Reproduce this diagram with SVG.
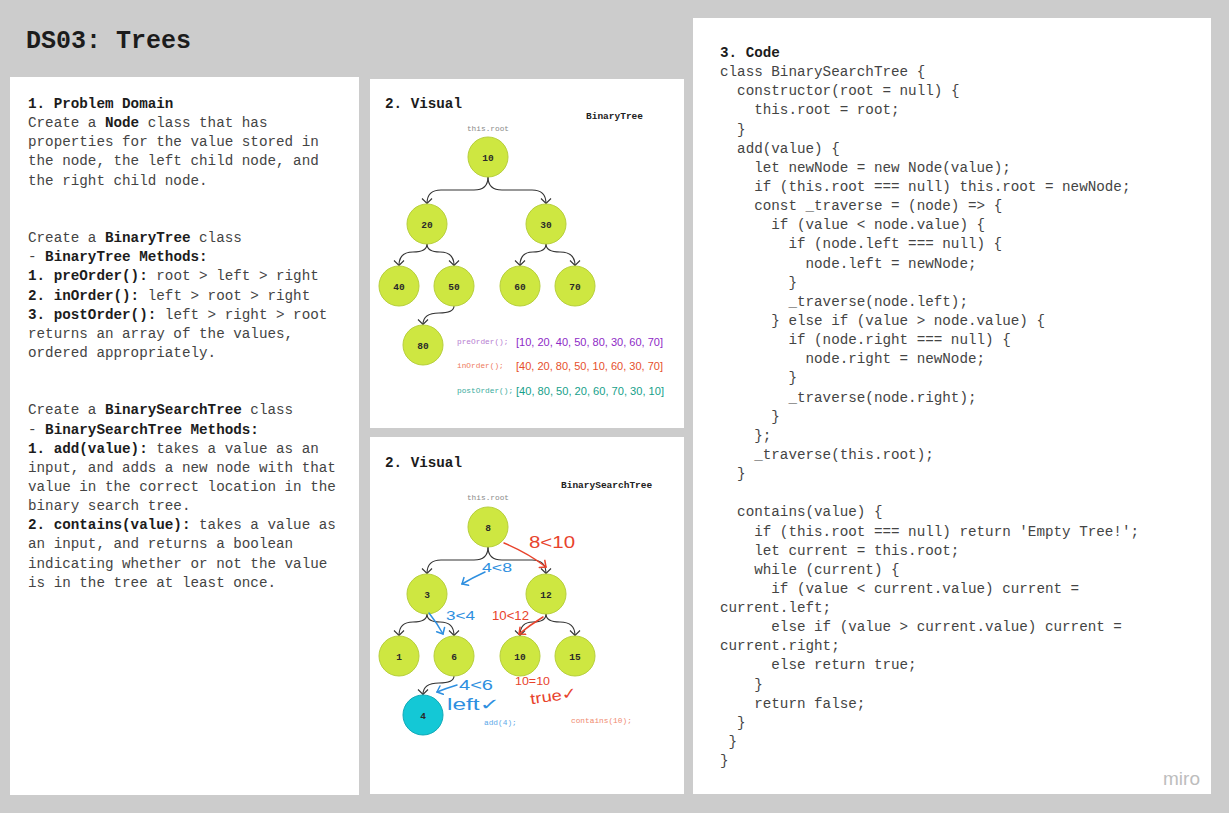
<svg xmlns="http://www.w3.org/2000/svg" width="1229" height="813" viewBox="0 0 1229 813">
<defs>
<style>
.panel{fill:#ffffff}
.mono{font-family:"Liberation Mono","DejaVu Sans Mono",monospace;font-size:14.25px;fill:#444444}
.b{font-weight:bold;fill:#1c1c1c}
.head{font-family:"Liberation Mono","DejaVu Sans Mono",monospace;font-size:14.25px;font-weight:bold;fill:#1c1c1c}
.node{fill:#cee741;stroke:#b7cf3c;stroke-width:1}
.node2{fill:#14c8d6;stroke:#10aab8;stroke-width:1}
.num{font-family:"Liberation Mono","DejaVu Sans Mono",monospace;font-size:9.5px;font-weight:bold;fill:#2a2a2a;text-anchor:middle}
.edge{fill:none;stroke:#333;stroke-width:1.1}
.small{font-family:"Liberation Mono","DejaVu Sans Mono",monospace;font-size:7.8px}
.lbl{font-family:"Liberation Mono","DejaVu Sans Mono",monospace;font-size:9.5px;font-weight:bold;fill:#222}
.hand{font-family:"Liberation Sans","DejaVu Sans",sans-serif}
.red{fill:#e8432c}
.blue{fill:#2e8fe0}
.redl{fill:none;stroke:#e8432c;stroke-width:1.5;stroke-linecap:round}
.bluel{fill:none;stroke:#2e8fe0;stroke-width:1.5;stroke-linecap:round}
</style>
<marker id="arr" viewBox="-6 -6 12 12" refX="0" refY="0" markerWidth="12" markerHeight="12" markerUnits="userSpaceOnUse" orient="auto">
<path d="M-5,-5 L0,0 L-5,5" fill="none" stroke="#333" stroke-width="1.1"/>
</marker>
<marker id="arrR" viewBox="-6 -6 12 12" refX="0" refY="0" markerWidth="12" markerHeight="12" markerUnits="userSpaceOnUse" orient="auto">
<path d="M-5,-4.5 L0,0 L-5,4.5" fill="none" stroke="#e8432c" stroke-width="1.5" stroke-linecap="round"/>
</marker>
<marker id="arrB" viewBox="-6 -6 12 12" refX="0" refY="0" markerWidth="12" markerHeight="12" markerUnits="userSpaceOnUse" orient="auto">
<path d="M-5,-4.5 L0,0 L-5,4.5" fill="none" stroke="#2e8fe0" stroke-width="1.5" stroke-linecap="round"/>
</marker>
</defs>

<rect x="0" y="0" width="1229" height="813" fill="#cccccc"/>
<text x="26" y="48" font-family="Liberation Mono, DejaVu Sans Mono, monospace" font-size="25" font-weight="bold" fill="#1c1c1c">DS03: Trees</text>

<g id="panel-problem">
<rect class="panel" x="10" y="77" width="349" height="718"/>
<text class="head" x="28" y="108">1. Problem Domain</text>
<text class="mono" x="28" y="127.15">Create a <tspan class="b">Node</tspan> class that has</text>
<text class="mono" x="28" y="146.3">properties for the value stored in</text>
<text class="mono" x="28" y="165.45">the node, the left child node, and</text>
<text class="mono" x="28" y="184.6">the right child node.</text>
<text class="mono" x="28" y="242.05">Create a <tspan class="b">BinaryTree</tspan> class</text>
<text class="mono" x="28" y="261.2">- <tspan class="b">BinaryTree Methods:</tspan></text>
<text class="mono" x="28" y="280.35"><tspan class="b">1. preOrder():</tspan> root &gt; left &gt; right</text>
<text class="mono" x="28" y="299.5"><tspan class="b">2. inOrder():</tspan> left &gt; root &gt; right</text>
<text class="mono" x="28" y="318.65"><tspan class="b">3. postOrder():</tspan> left &gt; right &gt; root</text>
<text class="mono" x="28" y="337.8">returns an array of the values,</text>
<text class="mono" x="28" y="356.95">ordered appropriately.</text>
<text class="mono" x="28" y="414.4">Create a <tspan class="b">BinarySearchTree</tspan> class</text>
<text class="mono" x="28" y="433.55">- <tspan class="b">BinarySearchTree Methods:</tspan></text>
<text class="mono" x="28" y="452.7"><tspan class="b">1. add(value):</tspan> takes a value as an</text>
<text class="mono" x="28" y="471.85">input, and adds a new node with that</text>
<text class="mono" x="28" y="491">value in the correct location in the</text>
<text class="mono" x="28" y="510.15">binary search tree.</text>
<text class="mono" x="28" y="529.3"><tspan class="b">2. contains(value):</tspan> takes a value as</text>
<text class="mono" x="28" y="548.45">an input, and returns a boolean</text>
<text class="mono" x="28" y="567.6">indicating whether or not the value</text>
<text class="mono" x="28" y="586.75">is in the tree at least once.</text>
</g>

<g id="panel-visual-bt">
<rect class="panel" x="370" y="79" width="314" height="349"/>
<text class="head" x="385" y="108">2. Visual</text>
<text class="lbl" x="586" y="119">BinaryTree</text>
<text class="small" x="488" y="131" fill="#8a8a8a" text-anchor="middle">this.root</text>
<text class="small" x="457" y="344" fill="#b57bd0">preOrder();</text>
<text class="hand" x="516" y="346" font-size="11" fill="#8e2ac6" textLength="147" lengthAdjust="spacingAndGlyphs">[10, 20, 40, 50, 80, 30, 60, 70]</text>
<text class="small" x="457" y="368" fill="#ee7a5c">inOrder();</text>
<text class="hand" x="516" y="370" font-size="11" fill="#e64f2c" textLength="147" lengthAdjust="spacingAndGlyphs">[40, 20, 80, 50, 10, 60, 30, 70]</text>
<text class="small" x="457" y="393" fill="#38ab9c">postOrder();</text>
<text class="hand" x="516" y="395" font-size="11" fill="#16a08a" textLength="148" lengthAdjust="spacingAndGlyphs">[40, 80, 50, 20, 60, 70, 30, 10]</text>
</g>

<g id="panel-visual-bst">
<rect class="panel" x="370" y="437" width="314" height="357"/>
<text class="head" x="385" y="467">2. Visual</text>
<text class="lbl" x="561" y="488">BinarySearchTree</text>
<text class="small" x="488" y="500" fill="#8a8a8a" text-anchor="middle">this.root</text>
<text class="small" x="484" y="725" fill="#5ca8e8">add(4);</text>
<text class="small" x="571" y="723" fill="#f08a70">contains(10);</text>
</g>

<g id="panel-code">
<rect class="panel" x="693" y="18" width="518" height="776"/>
<text class="head" x="720" y="57">3. Code</text>
<text class="mono" x="720" y="76.14">class BinarySearchTree {</text>
<text class="mono" x="737.1" y="95.28">constructor(root = null) {</text>
<text class="mono" x="754.2" y="114.42">this.root = root;</text>
<text class="mono" x="737.1" y="133.56">}</text>
<text class="mono" x="737.1" y="152.7">add(value) {</text>
<text class="mono" x="754.2" y="171.84">let newNode = new Node(value);</text>
<text class="mono" x="754.2" y="190.98">if (this.root === null) this.root = newNode;</text>
<text class="mono" x="754.2" y="210.12">const _traverse = (node) =&gt; {</text>
<text class="mono" x="771.3" y="229.26">if (value &lt; node.value) {</text>
<text class="mono" x="788.4" y="248.4">if (node.left === null) {</text>
<text class="mono" x="805.5" y="267.54">node.left = newNode;</text>
<text class="mono" x="788.4" y="286.68">}</text>
<text class="mono" x="788.4" y="305.82">_traverse(node.left);</text>
<text class="mono" x="771.3" y="324.96">} else if (value &gt; node.value) {</text>
<text class="mono" x="788.4" y="344.1">if (node.right === null) {</text>
<text class="mono" x="805.5" y="363.24">node.right = newNode;</text>
<text class="mono" x="788.4" y="382.38">}</text>
<text class="mono" x="788.4" y="401.52">_traverse(node.right);</text>
<text class="mono" x="771.3" y="420.66">}</text>
<text class="mono" x="754.2" y="439.8">};</text>
<text class="mono" x="754.2" y="458.94">_traverse(this.root);</text>
<text class="mono" x="737.1" y="478.08">}</text>
<text class="mono" x="737.1" y="516.36">contains(value) {</text>
<text class="mono" x="754.2" y="535.5">if (this.root === null) return 'Empty Tree!';</text>
<text class="mono" x="754.2" y="554.64">let current = this.root;</text>
<text class="mono" x="754.2" y="573.78">while (current) {</text>
<text class="mono" x="771.3" y="592.92">if (value &lt; current.value) current =</text>
<text class="mono" x="720" y="612.06">current.left;</text>
<text class="mono" x="771.3" y="631.2">else if (value &gt; current.value) current =</text>
<text class="mono" x="720" y="650.34">current.right;</text>
<text class="mono" x="771.3" y="669.48">else return true;</text>
<text class="mono" x="754.2" y="688.62">}</text>
<text class="mono" x="754.2" y="707.76">return false;</text>
<text class="mono" x="737.1" y="726.9">}</text>
<text class="mono" x="728.55" y="746.04">}</text>
<text class="mono" x="720" y="765.18">}</text>
<text x="1200" y="785" font-family="Liberation Sans, Arial, sans-serif" font-size="19" fill="#bdbdbd" text-anchor="end">miro</text>
</g>

<g id="connectors">
<path class="edge" marker-end="url(#arr)" d="M488,177 Q488,190 474,190 L441,190 Q427,190 427,203.5"/>
<path class="edge" marker-end="url(#arr)" d="M488,177 Q488,190 502,190 L532,190 Q546,190 546,203.5"/>
<path class="edge" marker-end="url(#arr)" d="M427,244 Q427,252 413,252 Q399,252 399,265.5"/>
<path class="edge" marker-end="url(#arr)" d="M427,244 Q427,252 440,252 Q454,252 454,265.5"/>
<path class="edge" marker-end="url(#arr)" d="M546,244 Q546,252 533,252 Q520,252 520,265.5"/>
<path class="edge" marker-end="url(#arr)" d="M546,244 Q546,252 560,252 Q575,252 575,265.5"/>
<path class="edge" marker-end="url(#arr)" d="M454,306 Q454,313 439,313 Q423,313 423,324.5"/>
<path class="edge" marker-end="url(#arr)" d="M488,547 Q488,560 474,560 L441,560 Q427,560 427,573.5"/>
<path class="edge" marker-end="url(#arr)" d="M488,547 Q488,560 502,560 L532,560 Q546,560 546,573.5"/>
<path class="edge" marker-end="url(#arr)" d="M427,614 Q427,622 413,622 Q399,622 399,635.5"/>
<path class="edge" marker-end="url(#arr)" d="M427,614 Q427,622 440,622 Q454,622 454,635.5"/>
<path class="edge" marker-end="url(#arr)" d="M546,614 Q546,622 533,622 Q520,622 520,635.5"/>
<path class="edge" marker-end="url(#arr)" d="M546,614 Q546,622 560,622 Q575,622 575,635.5"/>
<path class="edge" marker-end="url(#arr)" d="M454,676 Q454,683 439,683 Q423,683 423,694.5"/>
</g>

<g id="bt-10"><circle class="node" cx="488" cy="157" r="20"/><text class="num" x="488" y="160.5">10</text></g>
<g id="bt-20"><circle class="node" cx="427" cy="224" r="20"/><text class="num" x="427" y="227.5">20</text></g>
<g id="bt-30"><circle class="node" cx="546" cy="224" r="20"/><text class="num" x="546" y="227.5">30</text></g>
<g id="bt-40"><circle class="node" cx="399" cy="286" r="20"/><text class="num" x="399" y="289.5">40</text></g>
<g id="bt-50"><circle class="node" cx="454" cy="286" r="20"/><text class="num" x="454" y="289.5">50</text></g>
<g id="bt-60"><circle class="node" cx="520" cy="286" r="20"/><text class="num" x="520" y="289.5">60</text></g>
<g id="bt-70"><circle class="node" cx="575" cy="286" r="20"/><text class="num" x="575" y="289.5">70</text></g>
<g id="bt-80"><circle class="node" cx="423" cy="345" r="20"/><text class="num" x="423" y="348.5">80</text></g>

<g id="bst-8"><circle class="node" cx="488" cy="527" r="20"/><text class="num" x="488" y="530.5">8</text></g>
<g id="bst-3"><circle class="node" cx="427" cy="594" r="20"/><text class="num" x="427" y="597.5">3</text></g>
<g id="bst-12"><circle class="node" cx="546" cy="594" r="20"/><text class="num" x="546" y="597.5">12</text></g>
<g id="bst-1"><circle class="node" cx="399" cy="656" r="20"/><text class="num" x="399" y="659.5">1</text></g>
<g id="bst-6"><circle class="node" cx="454" cy="656" r="20"/><text class="num" x="454" y="659.5">6</text></g>
<g id="bst-10"><circle class="node" cx="520" cy="656" r="20"/><text class="num" x="520" y="659.5">10</text></g>
<g id="bst-15"><circle class="node" cx="575" cy="656" r="20"/><text class="num" x="575" y="659.5">15</text></g>
<g id="bst-4"><circle class="node2" cx="423" cy="715" r="20"/><text class="num" x="423" y="718.5">4</text></g>

<g id="annotations">
<path class="redl" marker-end="url(#arrR)" d="M504,543 Q528,553 546,567"/>
<text class="hand red" x="529" y="548" font-size="16" textLength="46" lengthAdjust="spacingAndGlyphs">8&lt;10</text>
<path class="bluel" marker-end="url(#arrB)" d="M485,572 Q472,578 462,584"/>
<text class="hand blue" x="482" y="572" font-size="13" textLength="30" lengthAdjust="spacingAndGlyphs">4&lt;8</text>
<path class="bluel" marker-end="url(#arrB)" d="M429,613 Q437,623 443,634"/>
<text class="hand blue" x="446" y="620" font-size="13" textLength="29" lengthAdjust="spacingAndGlyphs">3&lt;4</text>
<path class="redl" marker-end="url(#arrR)" d="M543,617 Q530,625 519,634"/>
<text class="hand red" x="492" y="620" font-size="13" textLength="37" lengthAdjust="spacingAndGlyphs">10&lt;12</text>
<path class="bluel" marker-end="url(#arrB)" d="M457,685 Q447,688 437,692"/>
<text class="hand blue" x="459" y="690" font-size="15" textLength="34" lengthAdjust="spacingAndGlyphs">4&lt;6</text>
<text class="hand blue" x="447" y="710" font-size="16" textLength="53" lengthAdjust="spacingAndGlyphs">left✓</text>
<text class="hand red" x="515" y="685" font-size="11" textLength="35" lengthAdjust="spacingAndGlyphs">10=10</text>
<text class="hand red" x="530" y="701" font-size="15" textLength="47" lengthAdjust="spacingAndGlyphs" transform="rotate(-8 553 695)">true✓</text>
</g>
</svg>
